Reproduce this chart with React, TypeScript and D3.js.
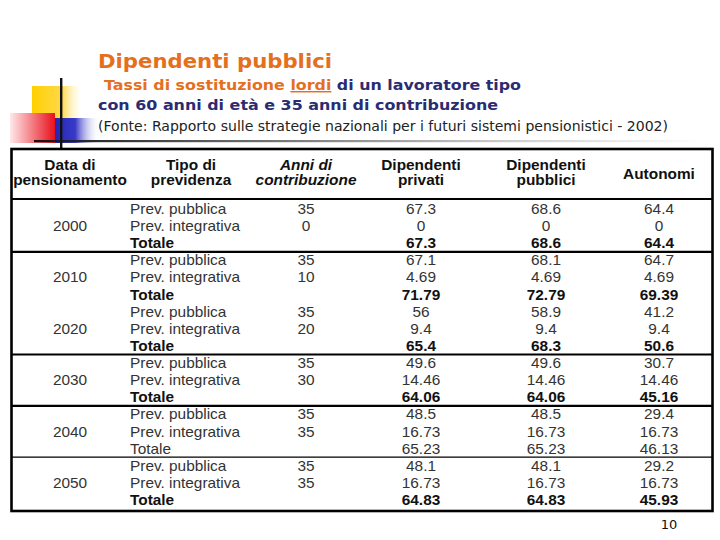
import React from "react";
import * as d3 from "d3";

const years = [2000, 2010, 2020, 2030, 2040, 2050];
const tipi = ["Prev. pubblica", "Prev. integrativa", "Totale"];
const anniPubblica = [35, 35, 35, 35, 35, 35];
const anniIntegrativa = [0, 10, 20, 30, 35, 35];
const privati = [
  [67.3, 0, 67.3],
  [67.1, 4.69, 71.79],
  [56, 9.4, 65.4],
  [49.6, 14.46, 64.06],
  [48.5, 16.73, 65.23],
  [48.1, 16.73, 64.83],
];
const pubblici = [
  [68.6, 0, 68.6],
  [68.1, 4.69, 72.79],
  [58.9, 9.4, 68.3],
  [49.6, 14.46, 64.06],
  [48.5, 16.73, 65.23],
  [48.1, 16.73, 64.83],
];
const autonomi = [
  [64.4, 0, 64.4],
  [64.7, 4.69, 69.39],
  [41.2, 9.4, 50.6],
  [30.7, 14.46, 45.16],
  [29.4, 16.73, 46.13],
  [29.2, 16.73, 45.93],
];
const boldTotale = [true, true, true, true, false, true];
// separator after group index: width
const separators = [
  { after: 0, w: 2.2 },
  { after: 2, w: 2.2 },
  { after: 3, w: 2.2 },
  { after: 4, w: 1.2 },
];

const headers = [
  { key: "data", lines: ["Data di", "pensionamento"], italic: false },
  { key: "tipo", lines: ["Tipo di", "previdenza"], italic: false },
  { key: "anni", lines: ["Anni di", "contribuzione"], italic: true },
  { key: "priv", lines: ["Dipendenti", "privati"], italic: false },
  { key: "pubb", lines: ["Dipendenti", "pubblici"], italic: false },
  { key: "auto", lines: ["Autonomi"], italic: false },
];

const colX = d3
  .scaleOrdinal<string, number>()
  .domain(["data", "tipo", "anni", "priv", "pubb", "auto"])
  .range([70, 191, 306, 421, 546, 659]);

const rowY = d3.scaleLinear().domain([0, 17]).range([214, 505]);

const SX = 1.1;
const ORANGE = "#E4701E";
const NAVY = "#2B2B72";

function T({ x, y, anchor = "middle", bold = false, italic = false, size = 14, fill = "#333", children }: any) {
  return (
    <g transform={`translate(${x},${y}) scale(${SX},1)`}>
      <text
        x={0}
        y={0}
        textAnchor={anchor}
        fontFamily="'Liberation Sans', Arial, sans-serif"
        fontSize={size}
        fontWeight={bold ? "bold" : "normal"}
        fontStyle={italic ? "italic" : "normal"}
        fill={fill}
      >
        {children}
      </text>
    </g>
  );
}

export default function App() {
  const left = 11.5;
  const right = 712.5;
  const top = 149;
  const bottom = 511;
  const headerLine = 199;

  const cells: any[] = [];
  years.forEach((yr, g) => {
    const base = g * 3;
    cells.push(
      <T key={`y${g}`} x={colX("data")} y={rowY(base + 1)}>
        {yr}
      </T>
    );
    tipi.forEach((t, r) => {
      const isTot = r === 2;
      const bold = isTot && boldTotale[g];
      const y = rowY(base + r);
      cells.push(
        <T key={`t${g}${r}`} x={130} y={y} anchor="start" bold={bold} fill={bold ? "#111" : "#333"}>
          {t}
        </T>
      );
      if (r < 2) {
        cells.push(
          <T key={`a${g}${r}`} x={colX("anni")} y={y}>
            {r === 0 ? anniPubblica[g] : anniIntegrativa[g]}
          </T>
        );
      }
      [
        ["priv", privati],
        ["pubb", pubblici],
        ["auto", autonomi],
      ].forEach(([k, arr]: any) => {
        cells.push(
          <T key={`${k}${g}${r}`} x={colX(k)} y={y} bold={bold} fill={bold ? "#111" : "#333"}>
            {String(arr[g][r])}
          </T>
        );
      });
    });
  });

  return (
    <svg width={720} height={540} style={{ position: "absolute", left: 0, top: 0, background: "#fff" }}>
      <defs>
        <linearGradient id="gY" x1="0" x2="1" y1="0" y2="0">
          <stop offset="0" stopColor="#FFD000" />
          <stop offset="0.6" stopColor="#FFD84A" />
          <stop offset="1" stopColor="#FFF6D0" stopOpacity="0" />
        </linearGradient>
        <linearGradient id="gR" x1="0" x2="1" y1="0" y2="0">
          <stop offset="0" stopColor="#FFE8EA" />
          <stop offset="1" stopColor="#E8101C" />
        </linearGradient>
        <linearGradient id="gB" x1="0" x2="1" y1="0" y2="0">
          <stop offset="0" stopColor="#2525B5" />
          <stop offset="0.45" stopColor="#3A3AC8" />
          <stop offset="1" stopColor="#FFFFFF" stopOpacity="0" />
        </linearGradient>
        <linearGradient id="gL" x1="0" x2="1" y1="0" y2="0">
          <stop offset="0" stopColor="#111" />
          <stop offset="0.3" stopColor="#666" />
          <stop offset="0.7" stopColor="#CCC" />
          <stop offset="1" stopColor="#FFF" />
        </linearGradient>
      </defs>

      {/* decoration */}
      <rect x={32} y={86} width={50} height={32} fill="url(#gY)" />
      <rect x={10} y={113} width={45} height={30} fill="url(#gR)" />
      <rect x={55} y={118} width={45} height={25} fill="url(#gB)" />
      <rect x={34} y={140} width={670} height={2.2} fill="url(#gL)" />
      <rect x={60} y={78} width={2.4} height={70} fill="#111" />

      {/* titles */}
      <text x={98} y={68} fontFamily="'DejaVu Sans', Verdana, sans-serif" fontWeight="bold" fontSize={19.5} fill={ORANGE} textLength={234} lengthAdjust="spacingAndGlyphs">
        Dipendenti pubblici
      </text>
      <text x={104} y={90} fontFamily="'DejaVu Sans', Verdana, sans-serif" fontWeight="bold" fontSize={14.5} textLength={417} lengthAdjust="spacingAndGlyphs">
        <tspan fill={ORANGE}>Tassi di sostituzione </tspan>
        <tspan fill={ORANGE} textDecoration="underline">lordi</tspan>
        <tspan fill={NAVY}> di un lavoratore tipo</tspan>
      </text>
      <text x={98} y={110} fontFamily="'DejaVu Sans', Verdana, sans-serif" fontWeight="bold" fontSize={14.5} fill={NAVY} textLength={400} lengthAdjust="spacingAndGlyphs">
        con 60 anni di età e 35 anni di contribuzione
      </text>
      <text x={98} y={131} fontFamily="'DejaVu Sans', Verdana, sans-serif" fontSize={13.5} fill="#222" textLength={570} lengthAdjust="spacingAndGlyphs">
        (Fonte: Rapporto sulle strategie nazionali per i futuri sistemi pensionistici - 2002)
      </text>

      {/* table frame */}
      <rect x={left} y={top} width={right - left} height={bottom - top} fill="none" stroke="#000" strokeWidth={2.6} />
      <line x1={left} x2={right} y1={headerLine} y2={headerLine} stroke="#000" strokeWidth={2.2} />
      {separators.map((s) => {
        const y = (rowY(s.after * 3 + 2) + rowY(s.after * 3 + 3)) / 2 - 5;
        return <line key={s.after} x1={left} x2={right} y1={y} y2={y} stroke="#000" strokeWidth={s.w} />;
      })}

      {/* headers */}
      {headers.map((h) =>
        h.lines.length === 1 ? (
          <T key={h.key} x={colX(h.key)} y={179} bold fill="#111">
            {h.lines[0]}
          </T>
        ) : (
          h.lines.map((l, i) => (
            <T key={h.key + i} x={colX(h.key)} y={170 + i * 15} bold italic={h.italic} fill="#111">
              {l}
            </T>
          ))
        )
      )}

      {cells}

      <text x={669} y={529} textAnchor="middle" fontFamily="'DejaVu Sans', Verdana, sans-serif" fontSize={13} fill="#111">
        10
      </text>
    </svg>
  );
}
